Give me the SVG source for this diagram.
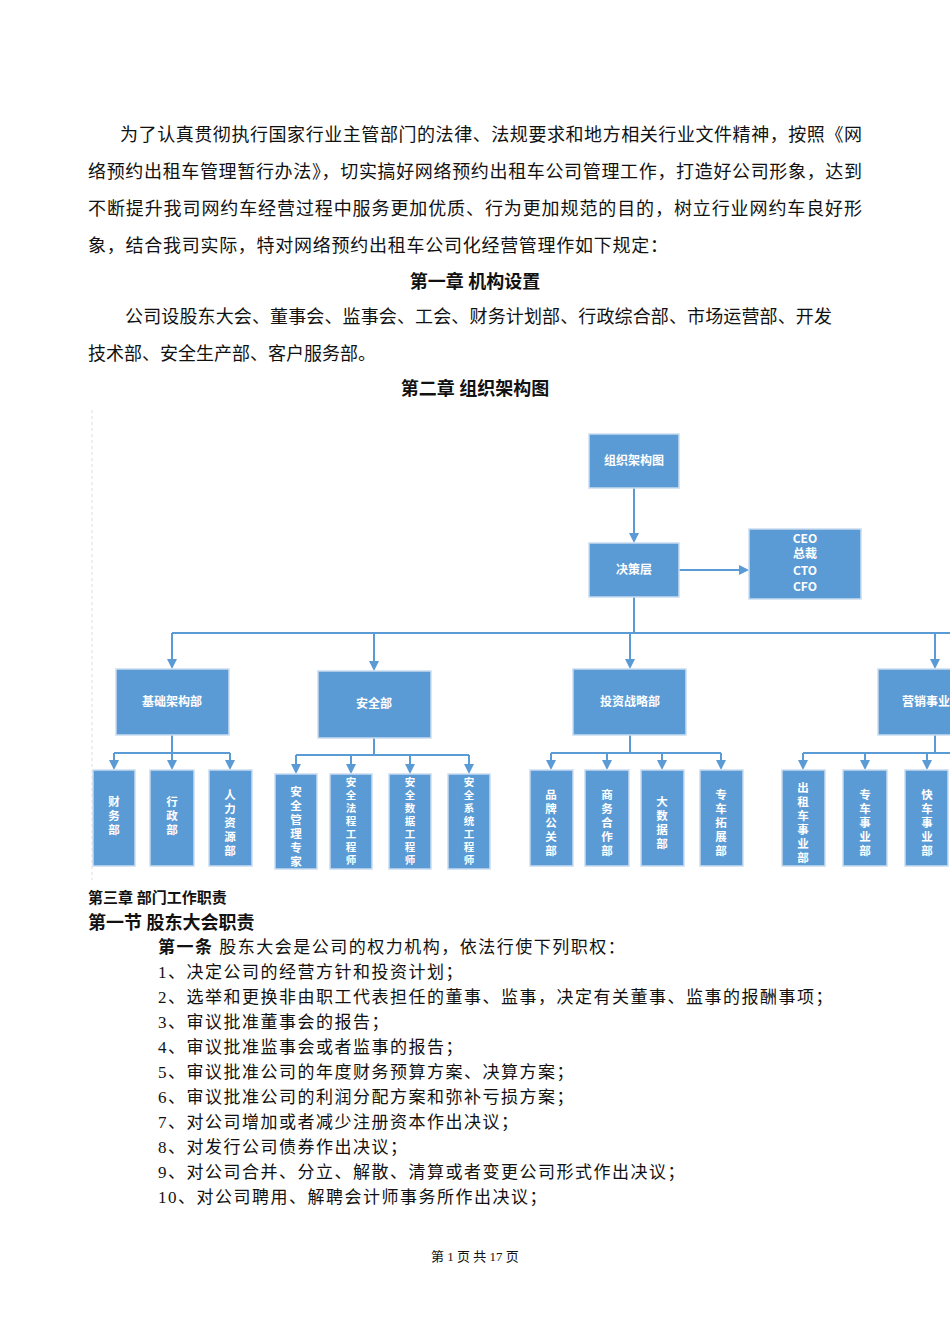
<svg xmlns="http://www.w3.org/2000/svg" width="950" height="1344" viewBox="0 0 950 1344">
<style>
.t{font-family:"Liberation Serif","Noto Sans CJK SC",serif;font-size:18px;fill:#111}
.b{font-weight:bold}
.n rect{fill:#5b9bd5;stroke:#c9dcef;stroke-width:1.5}
.n text{font-family:"Noto Sans CJK SC",sans-serif;font-size:12px;fill:#fff;text-anchor:middle;font-weight:bold}
.v text{font-size:11.5px}
.v .s text{font-size:10.5px}
.c{stroke:#5b9bd5;stroke-width:2;fill:none}
.li{letter-spacing:1.5px}
</style>
<defs><marker id="a" markerWidth="10" markerHeight="10" refX="5" refY="5" orient="auto" markerUnits="userSpaceOnUse"><path d="M0,0 L10,5 L0,10 z" fill="#5b9bd5"/></marker></defs>
<rect width="950" height="1344" fill="#fff"/>
<text class="t" x="120" y="141" textLength="742">为了认真贯彻执行国家行业主管部门的法律、法规要求和地方相关行业文件精神，按照《网</text>
<text class="t" x="88" y="178" textLength="774">络预约出租车管理暂行办法》，切实搞好网络预约出租车公司管理工作，打造好公司形象，达到</text>
<text class="t" x="88" y="215" textLength="774">不断提升我司网约车经营过程中服务更加优质、行为更加规范的目的，树立行业网约车良好形</text>
<text class="t" x="88" y="252" textLength="580">象，结合我司实际，特对网络预约出租车公司化经营管理作如下规定：</text>
<text class="t b" x="475" y="288" text-anchor="middle">第一章  机构设置</text>
<text class="t" x="125" y="323" textLength="707">公司设股东大会、董事会、监事会、工会、财务计划部、行政综合部、市场运营部、开发</text>
<text class="t" x="88" y="360">技术部、安全生产部、客户服务部。</text>
<text class="t b" x="475" y="395" text-anchor="middle">第二章  组织架构图</text>
<line x1="92" y1="410" x2="92" y2="880" stroke="#ddd" stroke-dasharray="3,3"/>
<g id="connectors" class="c">
<path d="M634,488 V538" marker-end="url(#a)"/>
<path d="M679,570 H744" marker-end="url(#a)"/>
<path d="M634,597 V633 M172,633 H950"/>
<path d="M172,633 V664" marker-end="url(#a)"/>
<path d="M374,633 V666" marker-end="url(#a)"/>
<path d="M630,633 V664" marker-end="url(#a)"/>
<path d="M935,633 V664" marker-end="url(#a)"/>
<path d="M172,735 V753 M114,753 H230"/>
<path d="M114,753 V765" marker-end="url(#a)"/><path d="M172,753 V765" marker-end="url(#a)"/><path d="M230,753 V765" marker-end="url(#a)"/>
<path d="M374,738 V755 M296,755 H469"/>
<path d="M296,755 V769" marker-end="url(#a)"/><path d="M351,755 V769" marker-end="url(#a)"/><path d="M410,755 V769" marker-end="url(#a)"/><path d="M469,755 V769" marker-end="url(#a)"/>
<path d="M630,735 V753 M551,753 H721"/>
<path d="M551,753 V765" marker-end="url(#a)"/><path d="M607,753 V765" marker-end="url(#a)"/><path d="M662,753 V765" marker-end="url(#a)"/><path d="M721,753 V765" marker-end="url(#a)"/>
<path d="M935,735 V753 M803,753 H950"/>
<path d="M803,753 V765" marker-end="url(#a)"/><path d="M865,753 V765" marker-end="url(#a)"/><path d="M927,753 V765" marker-end="url(#a)"/>
</g>
<g id="n-top" class="n"><rect x="589" y="434" width="90" height="54"/><text x="634" y="465">组织架构图</text></g>
<g id="n-jc" class="n"><rect x="589" y="543" width="90" height="54"/><text x="634" y="574">决策层</text></g>
<g id="n-ceo" class="n"><rect x="749" y="529" width="112" height="70"/><text x="805" y="543">CEO</text><text x="805" y="558">总裁</text><text x="805" y="575">CTO</text><text x="805" y="591">CFO</text></g>
<g id="n-jcjg" class="n"><rect x="116" y="669" width="113" height="66"/><text x="172" y="706">基础架构部</text></g>
<g id="n-aq" class="n"><rect x="318" y="671" width="113" height="67"/><text x="374" y="708">安全部</text></g>
<g id="n-tz" class="n"><rect x="573" y="669" width="113" height="66"/><text x="630" y="706">投资战略部</text></g>
<g id="n-yx" class="n"><rect x="878" y="669" width="80" height="66"/><text x="902" y="706" style="text-anchor:start">营销事业</text></g>
<g class="n v">
<g id="l1"><rect x="93" y="770" width="42" height="96"/><text x="114" y="806">财</text><text x="114" y="820">务</text><text x="114" y="834">部</text></g>
<g id="l2"><rect x="150" y="770" width="44" height="96"/><text x="172" y="806">行</text><text x="172" y="820">政</text><text x="172" y="834">部</text></g>
<g id="l3"><rect x="209" y="770" width="43" height="96"/><text x="230" y="799">人</text><text x="230" y="813">力</text><text x="230" y="827">资</text><text x="230" y="841">源</text><text x="230" y="855">部</text></g>
<g id="l4"><rect x="275" y="774" width="42" height="95"/><text x="296" y="796">安</text><text x="296" y="810">全</text><text x="296" y="824">管</text><text x="296" y="838">理</text><text x="296" y="852">专</text><text x="296" y="866">家</text></g>
<g id="l5" class="s"><rect x="330" y="774" width="42" height="95"/><text x="351" y="786">安</text><text x="351" y="799">全</text><text x="351" y="812">法</text><text x="351" y="825">程</text><text x="351" y="838">工</text><text x="351" y="851">程</text><text x="351" y="864">师</text></g>
<g id="l6" class="s"><rect x="389" y="774" width="42" height="95"/><text x="410" y="786">安</text><text x="410" y="799">全</text><text x="410" y="812">数</text><text x="410" y="825">据</text><text x="410" y="838">工</text><text x="410" y="851">程</text><text x="410" y="864">师</text></g>
<g id="l7" class="s"><rect x="448" y="774" width="42" height="95"/><text x="469" y="786">安</text><text x="469" y="799">全</text><text x="469" y="812">系</text><text x="469" y="825">统</text><text x="469" y="838">工</text><text x="469" y="851">程</text><text x="469" y="864">师</text></g>
<g id="l8"><rect x="530" y="770" width="43" height="96"/><text x="551" y="799">品</text><text x="551" y="813">牌</text><text x="551" y="827">公</text><text x="551" y="841">关</text><text x="551" y="855">部</text></g>
<g id="l9"><rect x="585" y="770" width="44" height="96"/><text x="607" y="799">商</text><text x="607" y="813">务</text><text x="607" y="827">合</text><text x="607" y="841">作</text><text x="607" y="855">部</text></g>
<g id="l10"><rect x="641" y="770" width="43" height="96"/><text x="662" y="806">大</text><text x="662" y="820">数</text><text x="662" y="834">据</text><text x="662" y="848">部</text></g>
<g id="l11"><rect x="700" y="770" width="43" height="96"/><text x="721" y="799">专</text><text x="721" y="813">车</text><text x="721" y="827">拓</text><text x="721" y="841">展</text><text x="721" y="855">部</text></g>
<g id="l12"><rect x="782" y="770" width="43" height="96"/><text x="803" y="792">出</text><text x="803" y="806">租</text><text x="803" y="820">车</text><text x="803" y="834">事</text><text x="803" y="848">业</text><text x="803" y="862">部</text></g>
<g id="l13"><rect x="843" y="770" width="44" height="96"/><text x="865" y="799">专</text><text x="865" y="813">车</text><text x="865" y="827">事</text><text x="865" y="841">业</text><text x="865" y="855">部</text></g>
<g id="l14"><rect x="905" y="770" width="43" height="96"/><text x="927" y="799">快</text><text x="927" y="813">车</text><text x="927" y="827">事</text><text x="927" y="841">业</text><text x="927" y="855">部</text></g>
</g>
<text class="t b" x="88" y="903" style="font-size:15px">第三章  部门工作职责</text>
<text class="t b" x="88" y="929">第一节  股东大会职责</text>
<g class="t li" style="font-size:17px">
<text x="158" y="953"><tspan class="b">第一条</tspan>    股东大会是公司的权力机构，依法行使下列职权：</text>
<text x="158" y="978">1、决定公司的经营方针和投资计划；</text>
<text x="158" y="1003">2、选举和更换非由职工代表担任的董事、监事，决定有关董事、监事的报酬事项；</text>
<text x="158" y="1028">3、审议批准董事会的报告；</text>
<text x="158" y="1053">4、审议批准监事会或者监事的报告；</text>
<text x="158" y="1078">5、审议批准公司的年度财务预算方案、决算方案；</text>
<text x="158" y="1103">6、审议批准公司的利润分配方案和弥补亏损方案；</text>
<text x="158" y="1128">7、对公司增加或者减少注册资本作出决议；</text>
<text x="158" y="1153">8、对发行公司债券作出决议；</text>
<text x="158" y="1178">9、对公司合并、分立、解散、清算或者变更公司形式作出决议；</text>
<text x="158" y="1203">10、对公司聘用、解聘会计师事务所作出决议；</text>
</g>
<text class="t" x="475" y="1261" text-anchor="middle" style="font-size:13px">第 1 页 共 17 页</text>
</svg>
